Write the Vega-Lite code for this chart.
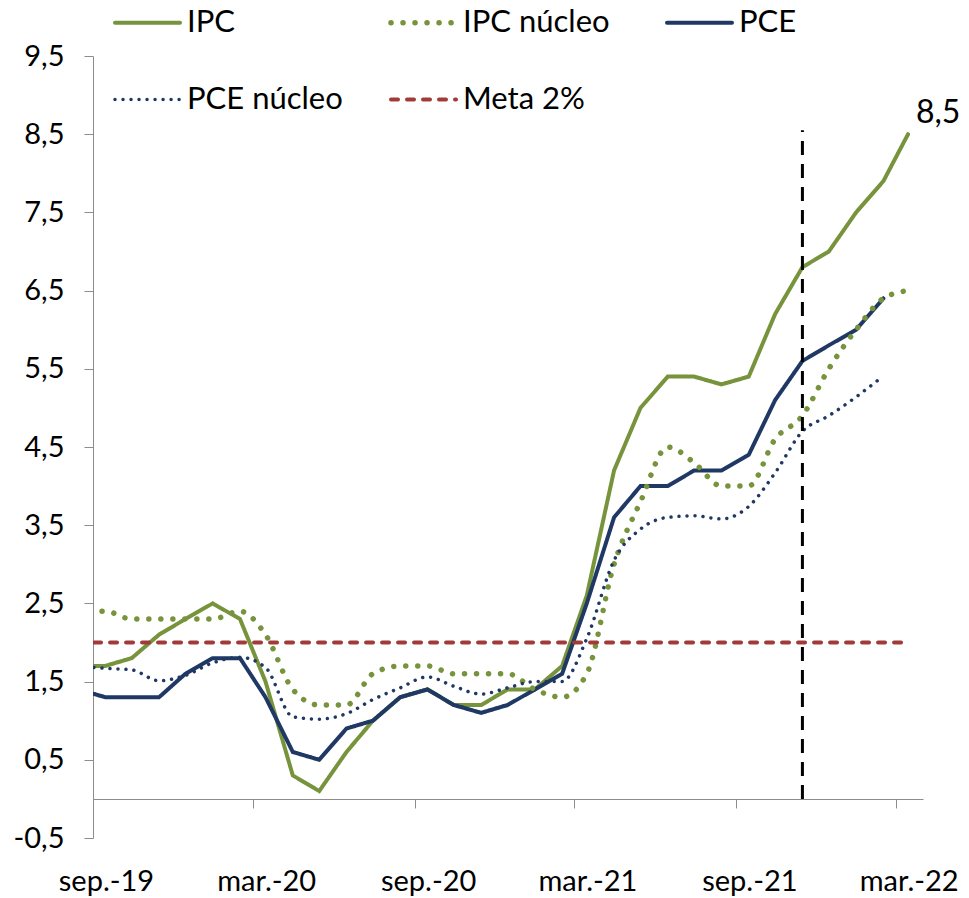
{
  "$schema": "https://vega.github.io/schema/vega-lite/v6.json",
  "width": 830,
  "height": 782,
  "autosize": {"type": "none"},
  "padding": {"left": 93, "top": 56, "right": 46, "bottom": 60},
  "background": "white",
  "config": {
    "view": {"stroke": null},
    "font": "Lato",
    "locale": {
      "number": {"decimal": ",", "thousands": ".", "grouping": [3], "currency": ["", " €"], "minus": "-"},
      "time": {
        "dateTime": "%A, %e de %B de %Y, %X",
        "date": "%d/%m/%Y",
        "time": "%H:%M:%S",
        "periods": ["AM", "PM"],
        "days": ["domingo", "lunes", "martes", "miércoles", "jueves", "viernes", "sábado"],
        "shortDays": ["dom", "lun", "mar", "mié", "jue", "vie", "sáb"],
        "months": ["enero", "febrero", "marzo", "abril", "mayo", "junio", "julio", "agosto", "septiembre", "octubre", "noviembre", "diciembre"],
        "shortMonths": ["ene.", "feb.", "mar.", "abr.", "may.", "jun.", "jul.", "ago.", "sep.", "oct.", "nov.", "dic."]
      }
    },
    "axis": {"labelFont": "Lato", "labelColor": "#000000", "domainColor": "#8c8c8c", "tickColor": "#8c8c8c", "grid": false, "title": null}
  },
  "data": {
    "values": [
      {"fecha": "2019-08-15", "IPC": 1.7, "IPC núcleo": 2.4, "PCE": 1.4, "PCE núcleo": 1.7, "Meta 2%": 2},
      {"fecha": "2019-09-15", "IPC": 1.7, "IPC núcleo": 2.4, "PCE": 1.3, "PCE núcleo": 1.67, "Meta 2%": 2},
      {"fecha": "2019-10-15", "IPC": 1.8, "IPC núcleo": 2.3, "PCE": 1.3, "PCE núcleo": 1.65, "Meta 2%": 2},
      {"fecha": "2019-11-15", "IPC": 2.1, "IPC núcleo": 2.3, "PCE": 1.3, "PCE núcleo": 1.51, "Meta 2%": 2},
      {"fecha": "2019-12-15", "IPC": 2.3, "IPC núcleo": 2.3, "PCE": 1.6, "PCE núcleo": 1.58, "Meta 2%": 2},
      {"fecha": "2020-01-15", "IPC": 2.5, "IPC núcleo": 2.3, "PCE": 1.8, "PCE núcleo": 1.74, "Meta 2%": 2},
      {"fecha": "2020-02-15", "IPC": 2.3, "IPC núcleo": 2.4, "PCE": 1.8, "PCE núcleo": 1.81, "Meta 2%": 2},
      {"fecha": "2020-03-15", "IPC": 1.5, "IPC núcleo": 2.1, "PCE": 1.3, "PCE núcleo": 1.68, "Meta 2%": 2},
      {"fecha": "2020-04-15", "IPC": 0.3, "IPC núcleo": 1.4, "PCE": 0.6, "PCE núcleo": 1.05, "Meta 2%": 2},
      {"fecha": "2020-05-15", "IPC": 0.1, "IPC núcleo": 1.2, "PCE": 0.5, "PCE núcleo": 1.02, "Meta 2%": 2},
      {"fecha": "2020-06-15", "IPC": 0.6, "IPC núcleo": 1.2, "PCE": 0.9, "PCE núcleo": 1.09, "Meta 2%": 2},
      {"fecha": "2020-07-15", "IPC": 1.0, "IPC núcleo": 1.6, "PCE": 1.0, "PCE núcleo": 1.27, "Meta 2%": 2},
      {"fecha": "2020-08-15", "IPC": 1.3, "IPC núcleo": 1.7, "PCE": 1.3, "PCE núcleo": 1.42, "Meta 2%": 2},
      {"fecha": "2020-09-15", "IPC": 1.4, "IPC núcleo": 1.7, "PCE": 1.4, "PCE núcleo": 1.56, "Meta 2%": 2},
      {"fecha": "2020-10-15", "IPC": 1.2, "IPC núcleo": 1.6, "PCE": 1.2, "PCE núcleo": 1.44, "Meta 2%": 2},
      {"fecha": "2020-11-15", "IPC": 1.2, "IPC núcleo": 1.6, "PCE": 1.1, "PCE núcleo": 1.34, "Meta 2%": 2},
      {"fecha": "2020-12-15", "IPC": 1.4, "IPC núcleo": 1.6, "PCE": 1.2, "PCE núcleo": 1.42, "Meta 2%": 2},
      {"fecha": "2021-01-15", "IPC": 1.4, "IPC núcleo": 1.4, "PCE": 1.4, "PCE núcleo": 1.5, "Meta 2%": 2},
      {"fecha": "2021-02-15", "IPC": 1.7, "IPC núcleo": 1.3, "PCE": 1.6, "PCE núcleo": 1.5, "Meta 2%": 2},
      {"fecha": "2021-03-15", "IPC": 2.6, "IPC núcleo": 1.6, "PCE": 2.5, "PCE núcleo": 2.05, "Meta 2%": 2},
      {"fecha": "2021-04-15", "IPC": 4.2, "IPC núcleo": 3.0, "PCE": 3.6, "PCE núcleo": 3.05, "Meta 2%": 2},
      {"fecha": "2021-05-15", "IPC": 5.0, "IPC núcleo": 3.8, "PCE": 4.0, "PCE núcleo": 3.45, "Meta 2%": 2},
      {"fecha": "2021-06-15", "IPC": 5.4, "IPC núcleo": 4.5, "PCE": 4.0, "PCE núcleo": 3.6, "Meta 2%": 2},
      {"fecha": "2021-07-15", "IPC": 5.4, "IPC núcleo": 4.3, "PCE": 4.2, "PCE núcleo": 3.62, "Meta 2%": 2},
      {"fecha": "2021-08-15", "IPC": 5.3, "IPC núcleo": 4.0, "PCE": 4.2, "PCE núcleo": 3.58, "Meta 2%": 2},
      {"fecha": "2021-09-15", "IPC": 5.4, "IPC núcleo": 4.0, "PCE": 4.4, "PCE núcleo": 3.74, "Meta 2%": 2},
      {"fecha": "2021-10-15", "IPC": 6.2, "IPC núcleo": 4.6, "PCE": 5.1, "PCE núcleo": 4.17, "Meta 2%": 2},
      {"fecha": "2021-11-15", "IPC": 6.8, "IPC núcleo": 4.9, "PCE": 5.6, "PCE núcleo": 4.7, "Meta 2%": 2},
      {"fecha": "2021-12-15", "IPC": 7.0, "IPC núcleo": 5.5, "PCE": 5.8, "PCE núcleo": 4.9, "Meta 2%": 2},
      {"fecha": "2022-01-15", "IPC": 7.5, "IPC núcleo": 6.0, "PCE": 6.0, "PCE núcleo": 5.14, "Meta 2%": 2},
      {"fecha": "2022-02-15", "IPC": 7.9, "IPC núcleo": 6.4, "PCE": 6.4, "PCE núcleo": 5.41, "Meta 2%": 2},
      {"fecha": "2022-03-15", "IPC": 8.5, "IPC núcleo": 6.5, "PCE": null, "PCE núcleo": null, "Meta 2%": 2}
    ]
  },
  "transform": [
    {"fold": ["IPC", "IPC núcleo", "PCE", "PCE núcleo", "Meta 2%"], "as": ["serie", "valor"]}
  ],
  "encoding": {
    "x": {
      "field": "fecha",
      "type": "temporal",
      "scale": {
        "type": "utc",
        "domain": [
          {"year": 2019, "month": 9, "date": 1, "utc": true},
          {"year": 2022, "month": 4, "date": 1, "utc": true}
        ]
      },
      "axis": {
        "values": [
          {"year": 2019, "month": 9, "date": 1, "utc": true},
          {"year": 2020, "month": 3, "date": 1, "utc": true},
          {"year": 2020, "month": 9, "date": 1, "utc": true},
          {"year": 2021, "month": 3, "date": 1, "utc": true},
          {"year": 2021, "month": 9, "date": 1, "utc": true},
          {"year": 2022, "month": 3, "date": 1, "utc": true}
        ],
        "labelExpr": "utcFormat(datum.value, '%b-%y')",
        "offset": -39,
        "tickSize": 9,
        "labelPadding": 59,
        "labelOffset": 13,
        "labelFontSize": 29,
        "labelAlign": "center",
        "labelBaseline": "top",
        "labelFlush": false,
        "labelOverlap": false,
        "title": null
      }
    },
    "y": {
      "field": "valor",
      "type": "quantitative",
      "scale": {"domain": [-0.5, 9.5], "nice": false, "zero": false},
      "axis": {
        "values": [-0.5, 0.5, 1.5, 2.5, 3.5, 4.5, 5.5, 6.5, 7.5, 8.5, 9.5],
        "format": ".1f",
        "tickSize": 9,
        "labelPadding": 20,
        "labelFontSize": 29,
        "title": null
      }
    },
    "color": {
      "field": "serie", "type": "nominal",
      "scale": {"domain": ["IPC", "IPC núcleo", "PCE", "PCE núcleo", "Meta 2%"], "range": ["#77933C", "#77933C", "#1F3864", "#1F3864", "#A13B3A"]},
      "legend": {
        "orient": "none", "legendX": 39, "legendY": -49, "direction": "horizontal", "columns": 3,
        "title": null, "symbolType": "stroke", "symbolSize": 4225, "labelFontSize": 31, "labelFont": "Lato",
        "labelColor": "#000000", "labelOffset": 24, "columnPadding": 37, "rowPadding": 45, "gridAlign": "all", "labelLimit": 400,
        "encode": {"symbols": {"update": {
          "strokeCap": {"value": "round"},
          "strokeWidth": {"signal": "datum.value == 'IPC núcleo' ? 5.5 : (datum.value == 'PCE núcleo' ? 3.5 : 4)"}
        }}}
      }
    },
    "strokeDash": {
      "field": "serie", "type": "nominal",
      "scale": {"domain": ["IPC", "IPC núcleo", "PCE", "PCE núcleo", "Meta 2%"], "range": [[1, 0], [0.01, 12], [1, 0], [0.01, 8], [7, 9]]}
    }
  },
  "layer": [
    {
      "transform": [{"filter": "datum.serie == 'IPC' || datum.serie == 'PCE'"}],
      "mark": {"type": "line", "clip": true, "strokeCap": "round", "strokeWidth": 4}
    },
    {
      "transform": [{"filter": "datum.serie == 'IPC núcleo'"}],
      "mark": {"type": "line", "clip": true, "strokeCap": "round", "interpolate": "monotone", "strokeWidth": 5.5}
    },
    {
      "transform": [{"filter": "datum.serie == 'PCE núcleo'"}],
      "mark": {"type": "line", "clip": true, "strokeCap": "round", "interpolate": "monotone", "strokeWidth": 3.5}
    },
    {
      "transform": [{"filter": "datum.serie == 'Meta 2%'"}],
      "mark": {"type": "line", "clip": true, "strokeCap": "round", "strokeWidth": 4}
    },
    {
      "transform": [{"filter": "datum.serie == 'IPC' && datum.valor == 8.5"}],
      "mark": {"type": "text", "align": "left", "baseline": "alphabetic", "dx": 8, "dy": -11, "fontSize": 32, "font": "Lato", "color": "#000000"},
      "encoding": {
        "text": {"field": "valor", "type": "quantitative", "format": ".1f"},
        "color": {"value": "#000000"},
        "strokeDash": {"value": [1, 0]}
      }
    },
    {
      "transform": [{"filter": "datum.serie == 'IPC' && datum.valor == 6.8"}],
      "mark": {"type": "rule", "color": "#000000", "strokeWidth": 3, "strokeDash": [14, 9]},
      "encoding": {
        "y": {"datum": 0},
        "y2": {"datum": 8.55},
        "color": {"value": "#000000"},
        "strokeDash": {"value": [14, 9]}
      }
    }
  ]
}
